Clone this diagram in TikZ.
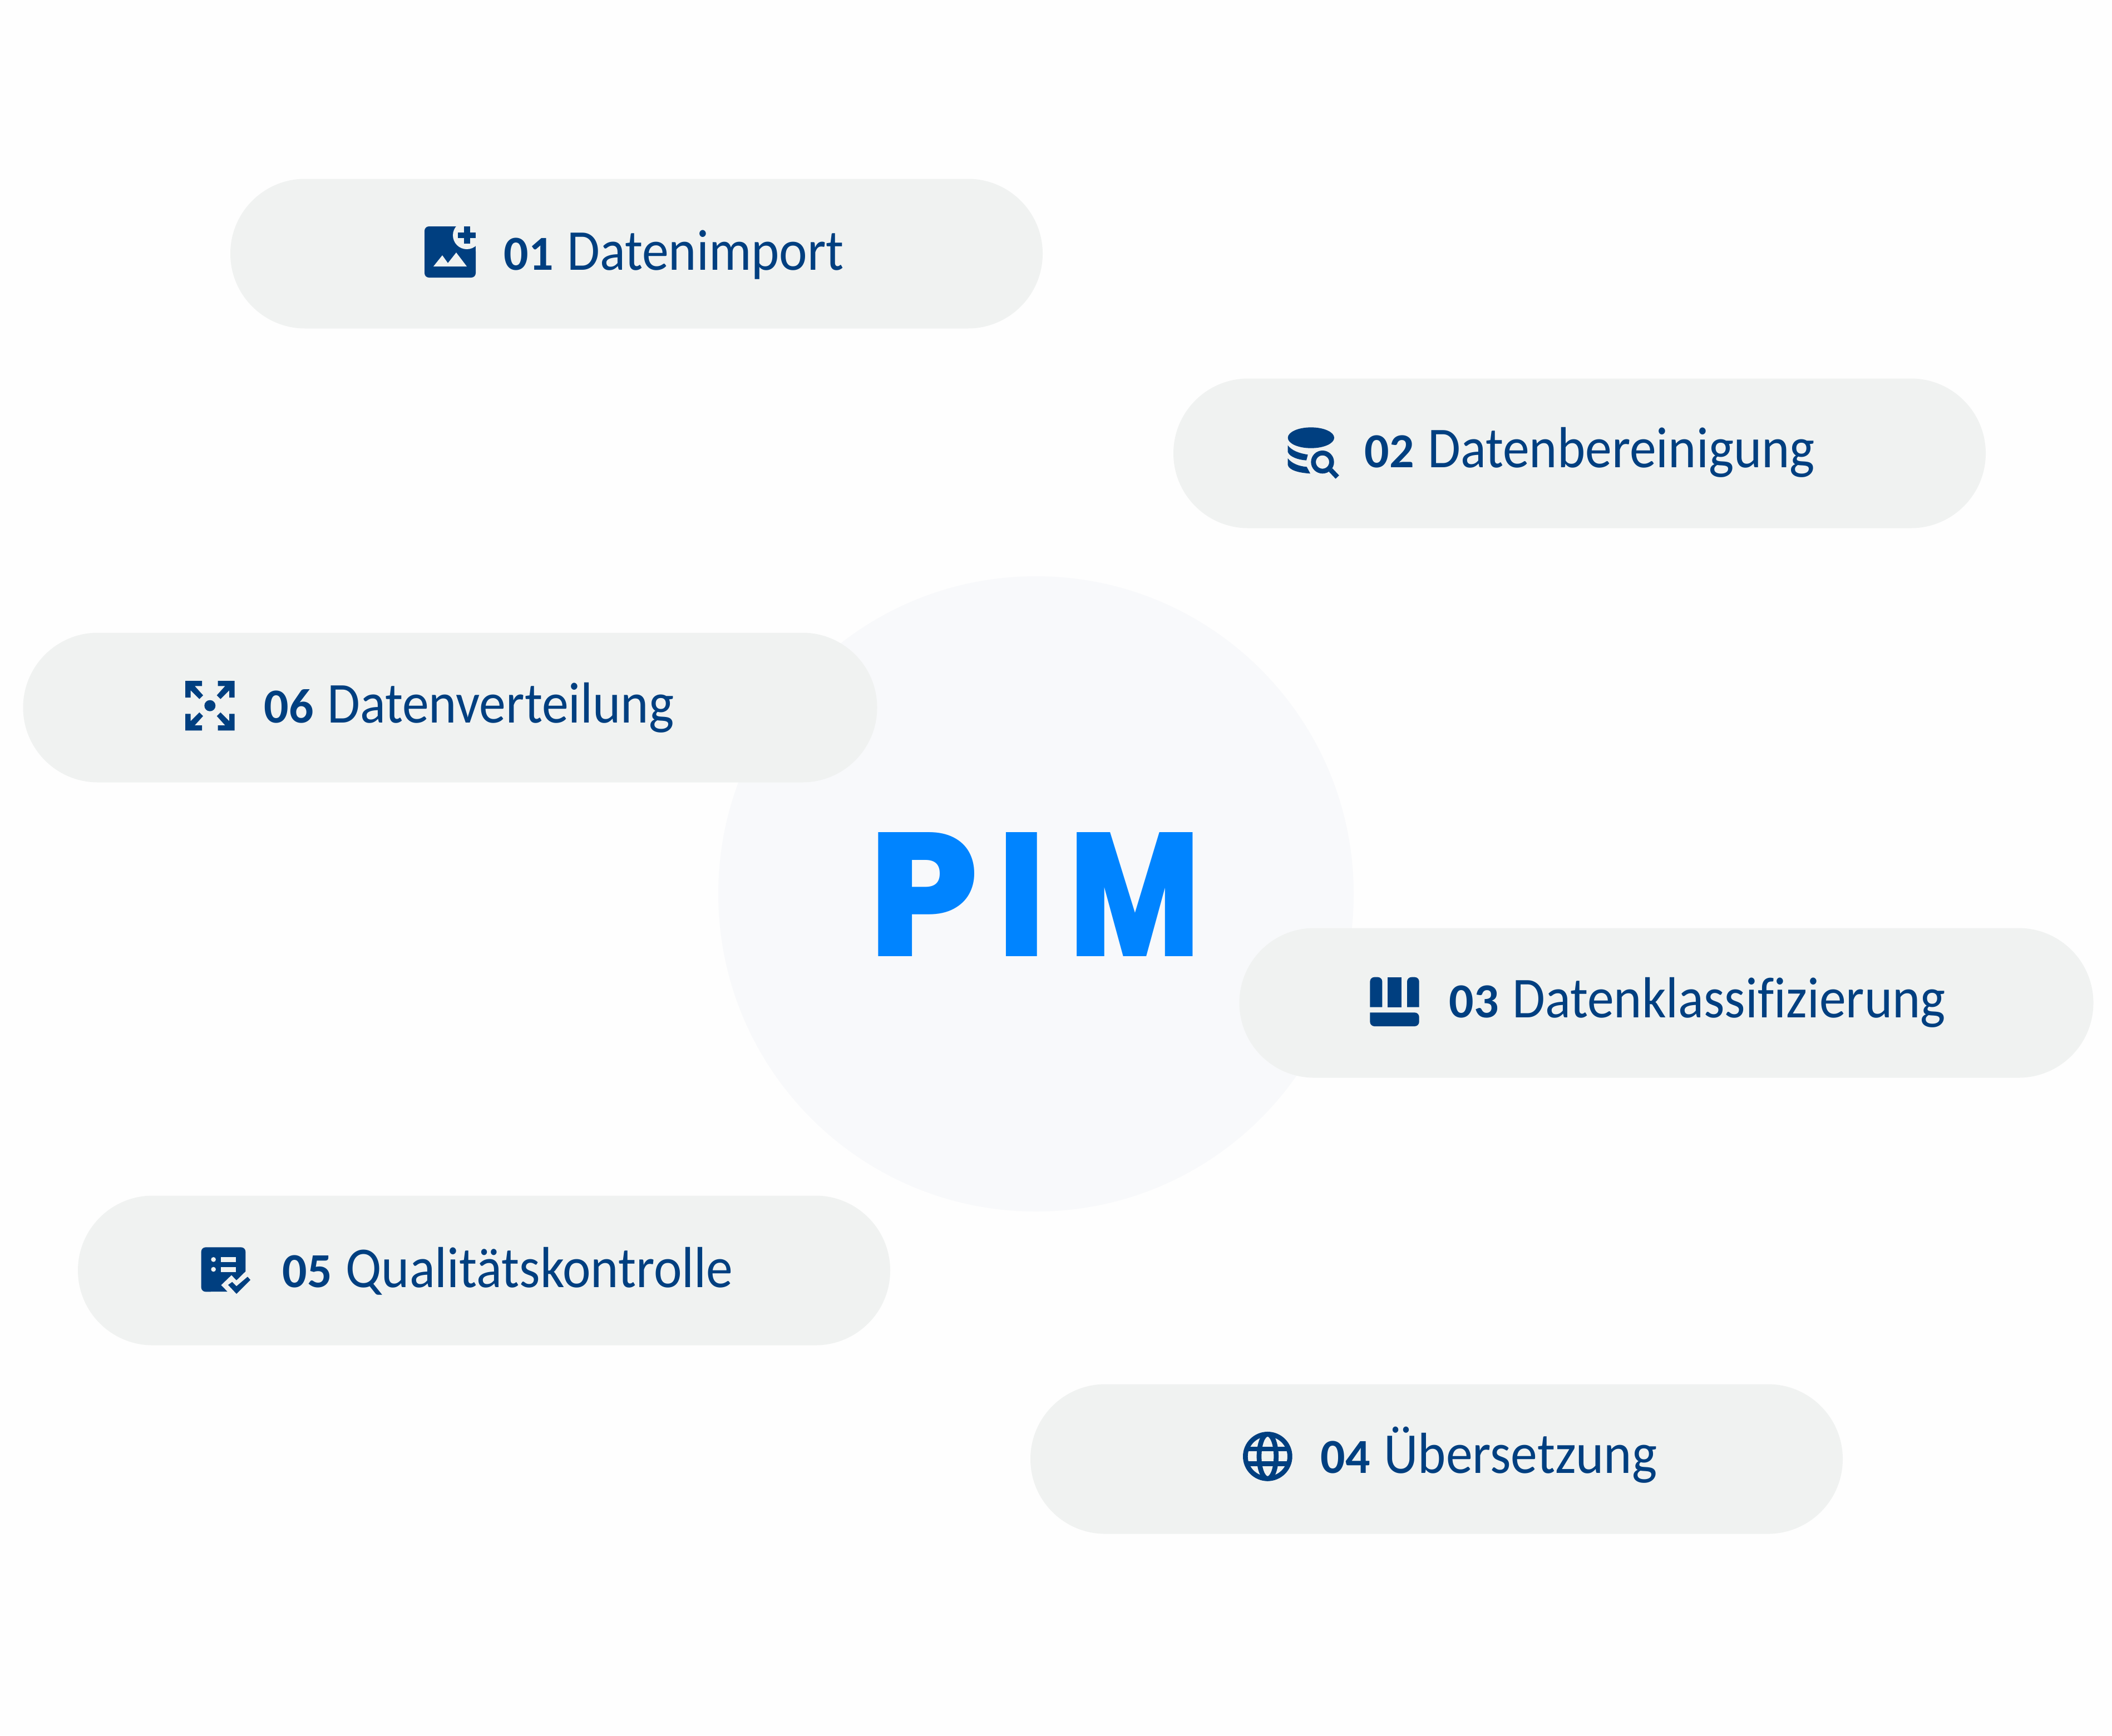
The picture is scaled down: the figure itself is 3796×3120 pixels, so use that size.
\documentclass[tikz,border=0pt]{standalone}
\usepackage{fontspec}
\usetikzlibrary{shapes.misc}
\setmainfont{Carlito}
\newfontfamily\pillfont[FakeStretch=0.92,Ligatures=NoCommon]{Carlito}
\newfontfamily\pimfont[UprightFont=* ExtraBold,FakeStretch=0.9]{Poppins}
\newfontfamily\pimwide[UprightFont=* ExtraBold,FakeStretch=0.98]{Poppins}
\newfontfamily\pimnarrow[UprightFont=* ExtraBold,FakeStretch=0.8]{Poppins}

\definecolor{pagebg}{HTML}{FEFEFE}
\definecolor{pillgray}{HTML}{F0F2F1}
\definecolor{circlegray}{HTML}{F8F9FB}
\definecolor{navy}{HTML}{003F80}
\definecolor{pimblue}{HTML}{0084FF}

\newcommand{\steplabel}[2]{{\normalfont\fontsize{25}{30}\selectfont\bfseries #1}\ \kern 0.3mm #2}

\tikzset{
  pill/.style={rounded rectangle,fill=pillgray,minimum height=26.9mm,inner sep=0pt},
  pillshort/.style={pill,minimum width=146mm},
  pilllong/.style={pill,minimum width=153.5mm},
  pilltext/.style={anchor=base west,inner sep=0pt,text=navy,font=\pillfont\fontsize{29.6}{34}\selectfont},
  icon/.style={fill=navy},
  iconline/.style={draw=navy,line width=0.87mm},
  pics/addimage/.style={code={
    \fill[icon,rounded corners=0.8mm] (0,0) rectangle (92,92);
    \fill[pillgray] (76,16) circle (25);
    \fill[pillgray] (92,0) rectangle (105,45);
    \fill[icon] (60,11) rectangle (92,21);
    \fill[icon] (71,0) rectangle (82,31);
    \fill[pillgray] (16,72) -- (32,52) -- (42,66) -- (57,47) -- (76,72) -- cycle;
  }},
  pics/dbsearch/.style={code={
    \fill[icon] (229,141) ellipse (125 and 56);
    \fill[icon] (104,182) .. controls (125,210) and (165,225) .. (212,232) -- (204,263) .. controls (160,260) and (115,245) .. (104,218) -- cycle;
    \fill[icon] (104,252) .. controls (125,280) and (165,295) .. (206,298) -- (225,334) .. controls (160,330) and (110,315) .. (104,288) -- cycle;
    \draw[iconline] (291,272) circle (49);
    \draw[iconline] (335,315) -- (371,353);
  }},
  pics/columns/.style={code={
    \fill[icon,rounded corners=0.8mm] (127,242) -- (127,80) -- (193,80) [sharp corners] -- (193,242) -- cycle;
    \fill[icon] (223,80) rectangle (297,242);
    \fill[icon,rounded corners=0.8mm] (392,242) -- (392,80) -- (327,80) [sharp corners] -- (327,242) -- cycle;
    \fill[icon,rounded corners=0.8mm] (127,271) -- (127,345) -- (392,345) -- (392,271) [sharp corners] -- cycle;
  }},
  pics/globe/.style={code={
    \draw[iconline] (235,205) circle (120);
    \draw[iconline] (235,205) ellipse (46 and 120);
    \draw[iconline] (122,165) -- (348,165);
    \draw[iconline] (122,245) -- (348,245);
  }},
  pics/checklist/.style={code={
    \fill[icon,rounded corners=0.8mm] (236,306) -- (95,307) -- (95,67) -- (334,67) [sharp corners] -- (334,197) -- (285,245) -- (258,217) -- (202,271) -- cycle;
    \fill[pillgray] (161,133) circle (13);
    \fill[pillgray] (161,186) circle (13);
    \fill[pillgray] (201,120) rectangle (281,147);
    \fill[pillgray] (201,173) rectangle (281,201);
    \fill[icon] (240,270) -- (262,254) -- (285,277) -- (345,226) -- (360,243) -- (285,318) -- cycle;
  }},
  pics/spread/.style={code={
    \foreach \sx/\sy in {1/1,-1/1,1/-1,-1/-1} {
      \fill[icon,shift={(232,236)},xscale=\sx,yscale=\sy] (-133,-134) -- (-43,-134) -- (-43,-106) -- (-82,-106) -- (-37,-56) -- (-57,-36) -- (-104,-83) -- (-104,-44) -- (-133,-44) -- cycle;
    }
    \fill[icon] (232,236) circle (30);
  }},
}

\begin{document}
\begin{tikzpicture}[x=0.1mm,y=-0.1mm]
\path[use as bounding box,fill=pagebg] (0,0) rectangle (3796,3120);

% centre
\node[circle,fill=circlegray,minimum size=114.2mm,inner sep=0pt] (hub) at (1862,1607) {};
\node[anchor=base west,inner sep=0pt,text=pimblue,font=\fontsize{90}{100}\selectfont] (pim) at (1561,1719) {{\pimwide P}\kern 3.4mm{\pimfont I}\kern 4.1mm{\pimnarrow M}};

% pills
\node[pillshort] (import) at (1144,456) {};
\node[pillshort] (cleanup) at (2839,815) {};
\node[pilllong] (sorting) at (2995,1803) {};
\node[pillshort] (translation) at (2582,2623) {};
\node[pillshort] (quality) at (870,2284) {};
\node[pilllong] (delivery) at (809,1272) {};

% icons
\pic (importicon) at (763,407) {addimage};
\pic[scale=1/3] (cleanupicon) at (2280,740) {dbsearch};
\pic[scale=1/3] (sortingicon) at (2420,1730) {columns};
\pic[scale=1/3] (translationicon) at (2200,2550) {globe};
\pic[scale=1/3] (qualityicon) at (330,2220) {checklist};
\pic[scale=1/3] (deliveryicon) at (300,1190) {spread};

% labels
\node[pilltext] (importtext) at (905,485) {\steplabel{01}{Datenimport}};
\node[pilltext] (cleanuptext) at (2452,840) {\steplabel{02}{Datenbereinigung}};
\node[pilltext] (sortingtext) at (2604,1829) {\steplabel{03}{Datenklassifizierung}};
\node[pilltext] (translationtext) at (2373,2648) {\steplabel{04}{Übersetzung}};
\node[pilltext] (qualitytext) at (507,2314) {\steplabel{05}{Qualitätskontrolle}};
\node[pilltext] (deliverytext) at (474,1299) {\steplabel{06}{Datenverteilung}};
\end{tikzpicture}
\end{document}
